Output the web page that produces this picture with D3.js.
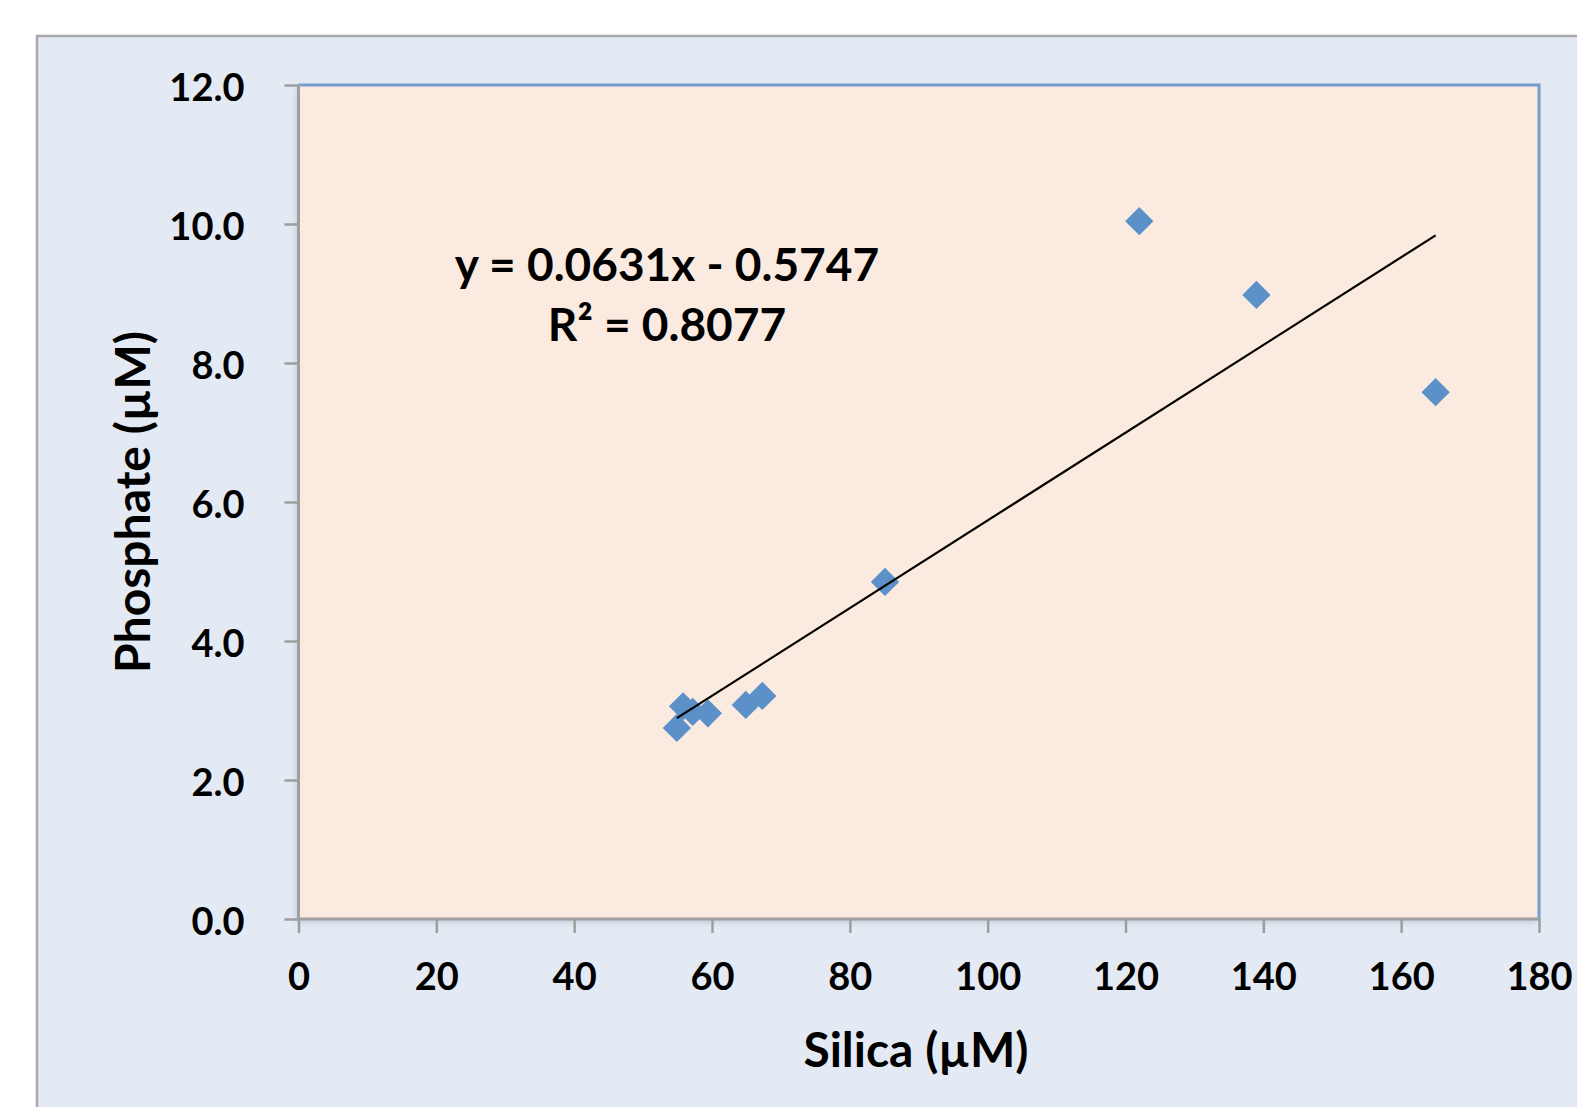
<!DOCTYPE html>
<html>
<head>
<meta charset="utf-8">
<script src="https://cdn.jsdelivr.net/npm/d3@7"></script>
<style>
  body { margin: 0; background: #fff; }
  svg { display: block; }
  text { font-family: Lato, "Open Sans", sans-serif; font-weight: bold; fill: #000; }
</style>
</head>
<body>
<div id="chart"></div>
<script>
// ── Data ───────────────────────────────────────────────────────────────────
const silica    = [54.9, 55.8, 57.2, 59.4, 64.9, 67.3, 85.1, 122.0, 139.0, 165.0];
const phosphate = [2.75, 3.06, 2.98, 2.96, 3.08, 3.21, 4.85, 10.04, 8.98, 7.58];
const xTicks = [0, 20, 40, 60, 80, 100, 120, 140, 160, 180];
const yTicks = [0, 2, 4, 6, 8, 10, 12];
const fit = { slope: 0.0631, intercept: -0.5747, r2: 0.8077 };

// ── Dimensions ─────────────────────────────────────────────────────────────
const width = 1577, height = 1107;
const plot = { left: 298.5, top: 85, right: 1539, bottom: 919 };

const svg = d3.select("#chart").append("svg")
  .attr("width", width)
  .attr("height", height);

const defs = svg.append("defs");
const shadow = defs.append("filter").attr("id", "shadow")
  .attr("x", "-5%").attr("y", "-5%").attr("width", "110%").attr("height", "110%");
shadow.append("feDropShadow")
  .attr("dx", -2).attr("dy", 3).attr("stdDeviation", 3)
  .attr("flood-color", "#7a8aa0").attr("flood-opacity", 0.35);

// outer chart frame
svg.append("rect")
  .attr("x", 37).attr("y", 36)
  .attr("width", width + 20).attr("height", height + 20)
  .attr("fill", "#e3eaf3")
  .attr("stroke", "#a9a9a9")
  .attr("stroke-width", 2.5);

const x = d3.scaleLinear().domain([0, 180]).range([plot.left, plot.right]);
const y = d3.scaleLinear().domain([0, 12]).range([plot.bottom, plot.top]);

// plot area
svg.append("rect")
  .attr("x", plot.left).attr("y", plot.top)
  .attr("width", plot.right - plot.left).attr("height", plot.bottom - plot.top)
  .attr("fill", "#fbeadf")
  .attr("filter", "url(#shadow)");

svg.append("path")
  .attr("d", `M${plot.left},${plot.top}H${plot.right}V${plot.bottom}`)
  .attr("fill", "none")
  .attr("stroke", "#739fce")
  .attr("stroke-width", 3);

// ── Axes ───────────────────────────────────────────────────────────────────
const xAxis = svg.append("g")
  .attr("transform", `translate(0,${plot.bottom})`)
  .call(d3.axisBottom(x).tickValues(xTicks).tickSize(14).tickPadding(30).tickFormat(d3.format("d")));

const yAxis = svg.append("g")
  .attr("transform", `translate(${plot.left},0)`)
  .call(d3.axisLeft(y).tickValues(yTicks).tickSize(14).tickPadding(40).tickFormat(d3.format(".1f")));

[xAxis, yAxis].forEach(g => {
  g.select(".domain").attr("stroke", "#9e9e9e").attr("stroke-width", 3);
  g.selectAll(".tick line").attr("stroke", "#9e9e9e").attr("stroke-width", 2.5);
  g.selectAll(".tick text")
    .attr("fill", "#000")
    .style("font-size", "38px")
    .style("font-family", "Lato, 'Open Sans', sans-serif")
    .style("font-weight", "bold");
});
xAxis.select(".domain").attr("d", `M${plot.left},0H${plot.right}`);
yAxis.select(".domain").attr("d", `M0,${plot.top}V${plot.bottom}`);
xAxis.selectAll(".tick text").attr("dy", "0.71em");
yAxis.selectAll(".tick text").attr("dy", "0.42em");

// axis titles
svg.append("text")
  .attr("x", 916).attr("y", 1067)
  .attr("text-anchor", "middle")
  .style("font-size", "48px")
  .text("Silica (µM)");

svg.append("text")
  .attr("transform", "translate(150,502) rotate(-90)")
  .attr("text-anchor", "middle")
  .style("font-size", "48px")
  .text("Phosphate (µM)");

// ── Points ─────────────────────────────────────────────────────────────────
const diamond = d3.symbol().type(d3.symbolSquare).size(400);
svg.append("g").selectAll("path")
  .data(silica.map((s, i) => [s, phosphate[i]]))
  .join("path")
  .attr("d", diamond)
  .attr("transform", d => `translate(${x(d[0])},${y(d[1])}) rotate(45)`)
  .attr("fill", "#5b90c8");

// ── Trend line (drawn over the points) ─────────────────────────────────────
const xMin = d3.min(silica), xMax = d3.max(silica);
svg.append("line")
  .attr("x1", x(xMin)).attr("y1", y(fit.slope * xMin + fit.intercept))
  .attr("x2", x(xMax)).attr("y2", y(fit.slope * xMax + fit.intercept))
  .attr("stroke", "#000")
  .attr("stroke-width", 2.2);

// ── Equation label ─────────────────────────────────────────────────────────
const eq = svg.append("text")
  .attr("text-anchor", "middle")
  .style("font-size", "46px");
eq.append("tspan").attr("x", 667).attr("y", 281)
  .text(`y = ${fit.slope}x - ${Math.abs(fit.intercept)}`);
eq.append("tspan").attr("x", 667).attr("y", 341)
  .text(`R² = ${fit.r2}`);
</script>
</body>
</html>
